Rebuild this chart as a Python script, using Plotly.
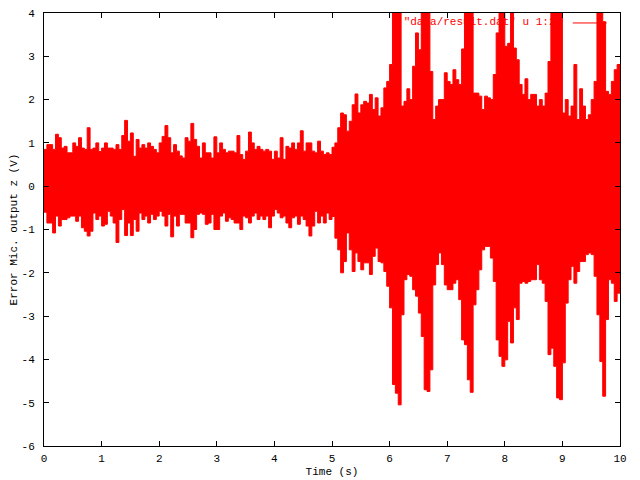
import numpy as np
import plotly.graph_objects as go

# ---------------- data ----------------
time_step = 0.05  # seconds per envelope bin
n_bins = 200

upper_a = [0.85, 0.96, 0.96, 0.85, 1.2, 1.12, 0.88, 0.92, 0.77, 0.77,
           1.0, 0.92, 1.12, 0.88, 0.85, 1.35, 0.85, 0.88, 1.0, 0.8,
           0.88, 1.0, 0.88, 0.88, 0.85, 0.96, 0.85, 1.17, 1.52, 1.04,
           1.23, 0.69, 1.08, 0.88, 0.96, 0.88, 1.0, 0.92, 0.85, 0.77,
           1.0, 1.15, 1.4, 1.12, 0.77, 0.96, 0.81, 0.7, 0.65, 1.12]
upper_b = [1.04, 1.45, 1.08, 0.92, 0.65, 1.0, 0.77, 0.77, 0.65, 1.14,
           0.77, 1.0, 0.85, 0.77, 0.81, 0.81, 0.77, 1.17, 0.73, 0.62,
           0.81, 1.25, 1.0, 0.85, 0.92, 0.85, 0.81, 0.85, 0.81, 0.62,
           0.81, 0.65, 1.12, 0.62, 0.92, 0.88, 1.0, 0.85, 1.0, 1.28,
           0.81, 1.0, 1.0, 0.81, 0.77, 1.04, 0.81, 0.73, 0.77, 0.73]
upper_c = [0.9, 1.0, 1.35, 1.69, 1.65, 1.27, 1.5, 1.88, 2.13, 1.69,
           1.88, 1.96, 1.92, 2.12, 1.77, 2.04, 1.62, 1.81, 2.27, 2.42,
           2.81, 4.6, 4.6, 4.6, 1.85, 1.96, 2.25, 2.0, 2.77, 3.54,
           3.15, 4.6, 4.6, 4.6, 2.65, 1.54, 1.85, 2.0, 2.0, 2.62,
           2.42, 2.35, 2.69, 2.46, 2.35, 3.17, 4.6, 4.6, 4.6, 2.15]
upper_d = [2.15, 2.08, 1.77, 2.08, 2.04, 2.0, 2.58, 3.54, 4.6, 4.6,
           3.23, 3.3, 4.6, 3.19, 2.92, 2.35, 2.12, 2.48, 2.0, 2.12,
           2.12, 1.85, 2.0, 1.85, 2.15, 2.88, 4.6, 4.6, 4.6, 4.6,
           1.69, 2.0, 1.62, 1.85, 2.81, 1.54, 2.25, 1.85, 1.54, 1.65,
           2.0, 2.42, 4.6, 4.6, 3.8, 2.19, 2.12, 2.42, 2.69, 2.81]

lower_a = [-0.6, -0.85, -0.85, -1.08, -0.69, -0.92, -0.77, -0.77, -0.73, -0.69,
           -0.69, -0.81, -0.69, -0.96, -1.04, -1.15, -1.04, -0.62, -0.77, -0.69,
           -0.92, -0.88, -0.58, -0.69, -0.85, -1.3, -0.77, -0.54, -1.14, -0.85,
           -1.14, -0.77, -1.04, -0.62, -0.77, -0.69, -0.85, -0.65, -0.77, -0.69,
           -0.58, -0.69, -0.92, -0.65, -1.17, -0.69, -0.92, -0.65, -0.65, -0.85]
lower_b = [-0.85, -1.19, -1.0, -0.65, -0.62, -0.65, -0.88, -0.85, -0.65, -1.0,
           -1.0, -0.69, -0.62, -0.81, -0.73, -0.77, -0.85, -0.85, -1.0, -0.69,
           -0.73, -0.85, -0.69, -0.62, -0.77, -0.69, -0.77, -0.69, -0.96, -0.69,
           -0.54, -0.62, -0.73, -0.69, -0.85, -0.96, -0.73, -0.69, -0.88, -0.69,
           -0.77, -0.92, -1.15, -0.92, -0.58, -0.85, -0.69, -0.85, -0.62, -0.77]
lower_c = [-0.7, -1.2, -1.47, -2.0, -1.74, -1.08, -1.47, -1.97, -1.54, -1.74,
           -1.93, -1.77, -1.77, -2.04, -1.62, -1.43, -1.74, -1.77, -1.97, -2.31,
           -2.81, -4.58, -4.78, -5.05, -2.97, -2.16, -2.04, -2.08, -2.39, -2.54,
           -2.93, -3.47, -4.7, -4.74, -4.24, -2.28, -1.81, -1.54, -1.81, -2.28,
           -2.39, -2.39, -2.24, -2.16, -2.62, -3.55, -3.66, -4.47, -4.76, -2.74]
lower_d = [-2.39, -1.93, -1.47, -1.39, -1.39, -1.66, -2.2, -3.55, -3.93, -4.16,
           -4.01, -3.12, -3.62, -2.81, -3.08, -2.24, -2.2, -2.24, -2.2, -2.16,
           -2.16, -1.81, -2.16, -2.24, -2.66, -3.89, -3.74, -4.16, -4.89, -4.93,
           -4.08, -2.7, -2.16, -1.85, -2.24, -1.97, -1.74, -1.74, -1.58, -1.54,
           -1.58, -2.08, -2.97, -4.05, -4.85, -3.08, -2.16, -2.24, -2.66, -2.47]

x_ticks = [0, 1, 2, 3, 4, 5, 6, 7, 8, 9, 10]
y_ticks = [-6, -5, -4, -3, -2, -1, 0, 1, 2, 3, 4]
series_name = '"data/result.dat" u 1:2'
x_title = "Time (s)"
y_title = "Error Mic. output z (V)"

# ---------------- build step envelope polygon ----------------
upper = np.array(upper_a + upper_b + upper_c + upper_d)
lower = np.array(lower_a + lower_b + lower_c + lower_d)
edges = np.arange(n_bins + 1) * time_step
x_step = np.repeat(edges, 2)[1:-1]
up_step = np.repeat(upper, 2)
lo_step = np.repeat(lower, 2)
poly_x = np.concatenate([x_step, x_step[::-1]])
poly_y = np.concatenate([up_step, lo_step[::-1]])

RED = "#ff0000"
FONT = dict(family="Liberation Mono, DejaVu Sans Mono, monospace", size=11, color="black")

# key placement (style constants)
KEY_TEXT_X, KEY_TEXT_Y = 8.88, 3.78

# the page body adds an 8px offset; size the figure so the plot box lands
# where the reference has it
PAGE_OFFSET = 8

fig = go.Figure()
fig.add_trace(go.Scatter(
    x=[KEY_TEXT_X], y=[KEY_TEXT_Y], mode="text", text=[series_name],
    textposition="middle left",
    textfont=dict(family=FONT["family"], size=11, color=RED),
    hoverinfo="skip", showlegend=False,
))
fig.add_trace(go.Scatter(
    x=poly_x, y=poly_y, mode="lines", fill="toself",
    fillcolor=RED, line=dict(color=RED, width=1),
    name=series_name, showlegend=False,
))

fig.add_shape(type="line", xref="paper", yref="paper",
              x0=0.918, x1=0.977, y0=0.977, y1=0.977,
              line=dict(color=RED, width=1), layer="below")

axis_common = dict(
    showline=True, linecolor="black", linewidth=1, mirror="allticks",
    ticks="inside", ticklen=5, tickcolor="black", tickwidth=1,
    showgrid=False, zeroline=False, tickfont=FONT,
    automargin=False, ticklabeloverflow="allow",
)

fig.update_layout(
    width=640 - PAGE_OFFSET, height=480 - PAGE_OFFSET, autosize=False,
    margin=dict(l=44 - PAGE_OFFSET, r=20, t=13 - PAGE_OFFSET, b=34),
    paper_bgcolor="white", plot_bgcolor="white",
    font=FONT, showlegend=False,
    xaxis=dict(range=[0, 10], tickvals=x_ticks, ticktext=[str(v) for v in x_ticks],
               ticklabelstandoff=2,
               title=dict(text=x_title, font=FONT, standoff=3), **axis_common),
    yaxis=dict(range=[-6, 4], tickvals=y_ticks, ticktext=[str(v) for v in y_ticks],
               ticklabelstandoff=6,
               title=dict(text=y_title, font=FONT, standoff=8), **axis_common),
)

fig.write_html("out.html")
